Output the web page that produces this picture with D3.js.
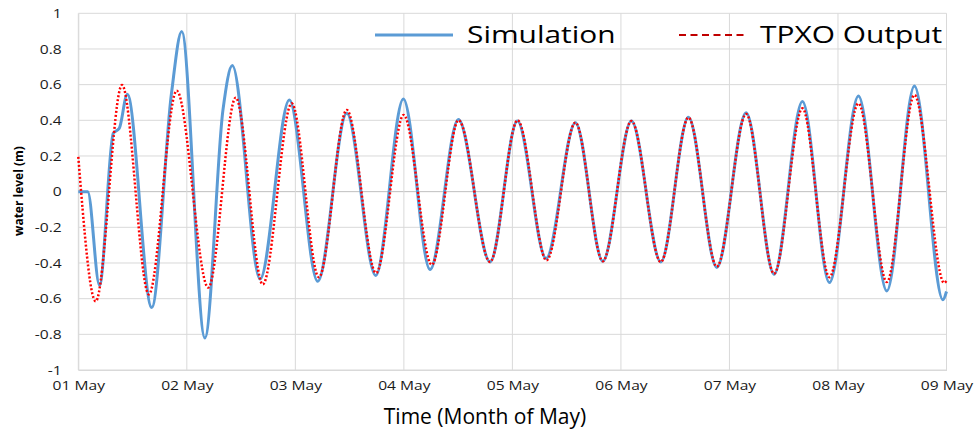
<!DOCTYPE html>
<html>
<head>
<meta charset="utf-8">
<script src="https://cdn.jsdelivr.net/npm/d3@7"></script>
<style>
  html, body { margin: 0; padding: 0; background: #fff; }
  svg { display: block; font-family: "Open Sans", sans-serif; }
</style>
</head>
<body>
<svg id="chart" width="976" height="432"></svg>
<script>
// ---- data (hours since 01 May 00:00, water level in m) ----
const simTimeH = [0, 2.08, 4.69, 7.74, 9.07, 10.84, 16.24, 20.6, 22.87, 28.0, 32.0, 34.06,
  40.19, 46.67, 52.95, 59.37, 65.78, 71.89, 77.79, 84.05, 91.06, 97.10, 103.45, 109.93,
  115.99, 122.32, 128.82, 134.93, 141.21, 147.69, 153.88, 160.14, 166.11, 172.53,
  178.81, 184.91, 191.2, 192];
const simLevel = [0, 0, -0.525, 0.327, 0.355, 0.546, -0.65, 0.55, 0.898, -0.82, 0.46, 0.707,
  -0.49, 0.514, -0.503, 0.44, -0.47, 0.52, -0.437, 0.405, -0.394, 0.396, -0.375, 0.387,
  -0.39, 0.396, -0.394, 0.417, -0.425, 0.443, -0.463, 0.505, -0.51, 0.536,
  -0.557, 0.593, -0.606, -0.56];

const tpxoTimeH = [0, 3.85, 9.67, 15.6, 21.76, 28.75, 34.82, 40.8, 47.2, 53.2, 59.37, 65.85,
  71.95, 78.17, 84.1, 91.06, 97.15, 103.56, 109.93, 115.99, 122.32, 128.82, 134.93,
  141.21, 147.69, 153.88, 160.14, 166.11, 172.53, 178.81, 184.91, 191.5, 192];
const tpxoLevel = [0.195, -0.615, 0.598, -0.576, 0.566, -0.538, 0.527, -0.52, 0.495, -0.48, 0.458, -0.456,
  0.43, -0.41, 0.40, -0.394, 0.40, -0.385, 0.387, -0.39, 0.396, -0.394, 0.415,
  -0.42, 0.435, -0.46, 0.467, -0.48, 0.495, -0.507, 0.542, -0.512, -0.50];

const yTicks = [-1, -0.8, -0.6, -0.4, -0.2, 0, 0.2, 0.4, 0.6, 0.8, 1];
const seriesNames = ["Simulation", "TPXO Output"];
const xTitle = "Time (Month of May)";
const yTitle = "water level (m)";

// ---- layout ----
const svg = d3.select("#chart");
const L = 78.3, R = 946.5, T = 13.3, B = 370;
const t0 = Date.UTC(2019, 4, 1);
const toDate = h => new Date(t0 + h * 3600e3);

const x = d3.scaleUtc().domain([toDate(0), toDate(192)]).range([L, R]);
const y = d3.scaleLinear().domain([-1, 1]).range([B, T]);

// gridlines
const grid = svg.append("g");
grid.selectAll("line.h").data(yTicks).join("line")
  .attr("x1", L).attr("x2", R)
  .attr("y1", d => y(d)).attr("y2", d => y(d))
  .attr("stroke", d => d === 0 ? "#BFBFBF" : "#D9D9D9").attr("stroke-width", 1);
grid.selectAll("line.v").data(x.ticks(d3.utcDay.every(1))).join("line")
  .attr("x1", d => x(d)).attr("x2", d => x(d))
  .attr("y1", T).attr("y2", B)
  .attr("stroke", "#D9D9D9").attr("stroke-width", 1);

// axes
const xAxis = d3.axisBottom(x).ticks(d3.utcDay.every(1)).tickFormat(d3.utcFormat("%d %b")).tickSize(0);
const gx = svg.append("g").attr("transform", `translate(0,${B})`).call(xAxis);
gx.select(".domain").attr("stroke", "#D9D9D9");
gx.selectAll(".tick text")
  .attr("y", null).attr("dy", null)
  .attr("transform", "translate(0,20) scale(1.3,1)")
  .attr("font-size", 12).attr("font-family", "Open Sans").attr("fill", "#1a1a1a");

const yAxis = d3.axisLeft(y).tickValues(yTicks).tickFormat(d => String(+d.toFixed(1))).tickSize(0);
const gy = svg.append("g").attr("transform", `translate(${L},0)`).call(yAxis);
gy.select(".domain").attr("stroke", "#D9D9D9");
gy.selectAll(".tick text")
  .attr("x", null)
  .attr("transform", "translate(-16.6,0) scale(1.2,1)")
  .attr("font-size", 13).attr("font-family", "Open Sans").attr("fill", "#1a1a1a");

// lines
const line = d3.line().x(d => x(d[0])).y(d => y(d[1])).curve(d3.curveMonotoneX);
const simData = simTimeH.map((h, i) => [toDate(h), simLevel[i]]);
const tpxoData = tpxoTimeH.map((h, i) => [toDate(h), tpxoLevel[i]]);

svg.append("path").datum(simData).attr("d", line)
  .attr("fill", "none").attr("stroke", "#5B9BD5").attr("stroke-width", 3)
  .attr("stroke-linejoin", "round");
svg.append("path").datum(tpxoData).attr("d", line)
  .attr("fill", "none").attr("stroke", "#FF0000").attr("stroke-width", 2.5)
  .attr("stroke-dasharray", "2,2");

// legend
const leg = svg.append("g");
leg.append("line").attr("x1", 375).attr("x2", 453).attr("y1", 35).attr("y2", 35)
  .attr("stroke", "#5B9BD5").attr("stroke-width", 3);
leg.append("text").attr("transform", "translate(467,43) scale(1.3,1)")
  .attr("font-size", 23).attr("fill", "#000").text(seriesNames[0]);
leg.append("line").attr("x1", 679).attr("x2", 746).attr("y1", 35).attr("y2", 35)
  .attr("stroke", "#C00000").attr("stroke-width", 2).attr("stroke-dasharray", "7,4.5");
leg.append("text").attr("transform", "translate(760,43) scale(1.3,1)")
  .attr("font-size", 23).attr("fill", "#000").text(seriesNames[1]);

// titles
svg.append("text").attr("x", 485).attr("y", 424).attr("text-anchor", "middle")
  .attr("font-size", 21).attr("fill", "#000").text(xTitle);
svg.append("text").attr("transform", "translate(23,191) rotate(-90)")
  .attr("text-anchor", "middle").attr("font-size", 12).attr("font-weight", "bold")
  .attr("fill", "#000").text(yTitle);
</script>
</body>
</html>
